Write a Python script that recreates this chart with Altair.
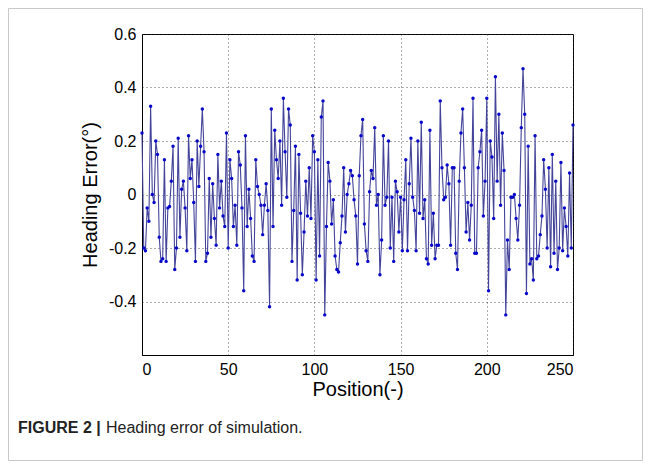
import altair as alt
import pandas as pd

heading_error = [
    0.23, -0.2, -0.21, -0.05, -0.1, 0.33, 0.0, -0.03, 0.2, 0.15, -0.16, -0.25, -0.24, 0.13, -0.25, -0.05, -0.045, 0.05, 0.18, -0.28, -0.2, 0.21,
    -0.16, 0.02, 0.05, -0.05, -0.21, 0.22, 0.06, 0.13, -0.03, -0.25, 0.2, 0.03, 0.18, 0.32, 0.16, -0.25, -0.22, 0.06, -0.16, 0.04, -0.09, -0.19, 0.15,
    -0.05, 0.05, -0.08, -0.12, 0.23, -0.2, 0.13, 0.06, -0.12, -0.04, -0.19, 0.16, 0.11, -0.05, -0.36, 0.22, -0.12, 0.02, -0.09, -0.23, -0.25, 0.13, 0.03, 0.0,
    -0.04, -0.15, -0.04, 0.04, -0.06, -0.42, 0.32, -0.12, 0.24, 0.13, 0.06, 0.2, -0.04, 0.36, 0.16, -0.01, 0.32, 0.26, -0.25, -0.06, 0.18, -0.32,
    0.15, -0.07, -0.3, -0.14, 0.05, -0.08, 0.1, -0.09, 0.22, 0.16, -0.32, 0.13, -0.23, 0.29, 0.35, -0.45, -0.12, 0.12, 0.05, -0.11, -0.02, -0.23, -0.28,
    -0.29, -0.18, -0.08, 0.1, -0.14, 0.0, 0.04, 0.09, 0.07, -0.02, -0.08, -0.26, 0.07, 0.22, 0.28, -0.11, -0.21, -0.25, 0.01, 0.09, 0.06, 0.25, -0.04,
    0.0, -0.3, -0.17, 0.22, -0.04, -0.01, 0.2, -0.2, -0.01, -0.25, 0.05, 0.01, -0.14, -0.01, -0.21, -0.02, 0.13, -0.21, 0.04, 0.21, -0.01,
    -0.06, -0.21, 0.2, -0.07, 0.27, -0.09, -0.02, -0.24, -0.26, 0.24, -0.19, -0.07, -0.24, -0.19, -0.19, 0.35, 0.1, -0.02, -0.01, 0.11, 0.04, -0.19, 0.1,
    0.1, -0.22, -0.28, 0.05, 0.23, 0.32, 0.1, -0.14, -0.03, -0.17, -0.04, 0.36, -0.22, -0.22, 0.1, 0.16, 0.24, -0.08, 0.05, 0.36, -0.36, 0.2, 0.14,
    -0.09, 0.44, 0.05, 0.3, -0.04, 0.23, 0.09, -0.45, -0.17, -0.28, -0.01, -0.01, 0.0, -0.09, -0.17, -0.04, 0.25, 0.47, 0.3, -0.37, 0.18, -0.26, -0.24, -0.32, 0.22, -0.24, -0.23, -0.15, -0.08, 0.13,
    0.02, -0.2, 0.1, -0.27, 0.15, -0.22, 0.05, -0.28, -0.2, 0.12, -0.21, -0.05, -0.12, -0.23, 0.08, -0.2, 0.26,
]
position = list(range(len(heading_error)))

x_ticks = [0, 50, 100, 150, 200, 250]
y_ticks = [-0.4, -0.2, 0, 0.2, 0.4, 0.6]

caption_bold = ["FIGURE 2 |"]
caption_text = ["Heading error of simulation."]

df = pd.DataFrame({"pos": position, "err": heading_error})

FONT = "Liberation Sans"

x_enc = alt.X("pos:Q", scale=alt.Scale(domain=[0, 250], nice=False),
              axis=alt.Axis(values=x_ticks, title="Position(-)", format="d"))
y_enc = alt.Y("err:Q", scale=alt.Scale(domain=[-0.6, 0.6], nice=False),
              axis=alt.Axis(values=y_ticks, title="Heading Error(°)",
                            labelExpr="'' + datum.value"))

line = alt.Chart(df).mark_line(color="#44449a", strokeWidth=1.1).encode(x=x_enc, y=y_enc)
pts = alt.Chart(df).mark_point(filled=True, color="#0808cc", size=12, opacity=1).encode(x="pos:Q", y="err:Q")

frame = alt.Chart(pd.DataFrame({"k": [0]})).mark_rect(
    fill=None, stroke="#c8c8c8", strokeWidth=1
).encode(x=alt.value(-133.5), x2=alt.value(500.5), y=alt.value(-25.5), y2=alt.value(426.5))

cap1 = alt.Chart(pd.DataFrame({"t": caption_bold})).mark_text(
    align="left", baseline="middle", font=FONT, fontSize=16, fontWeight="bold", color="#222222"
).encode(text="t:N", x=alt.value(-124), y=alt.value(394))
cap2 = alt.Chart(pd.DataFrame({"t": caption_text})).mark_text(
    align="left", baseline="middle", font=FONT, fontSize=16, color="#222222"
).encode(text="t:N", x=alt.value(-36), y=alt.value(394))

chart = alt.layer(frame, line, pts, cap1, cap2).properties(
    width=431, height=321,
    autosize=alt.AutoSizeParams(type="none"),
    padding={"left": 134, "top": 26, "right": 70, "bottom": 106},
).configure_view(stroke="black", strokeWidth=1).configure_axis(
    labelFont=FONT, titleFont=FONT, labelFontSize=16, titleFontSize=20,
    titleFontWeight="normal", labelColor="black", titleColor="black",
    domainColor="black", ticks=False,
    grid=True, gridColor="#333333", gridDash=[1, 3], gridOpacity=0.8,
).configure_axisX(titlePadding=2, labelPadding=6).configure_axisY(titlePadding=8, labelPadding=6)

chart.save("out.html", embed_options={"renderer": "svg", "actions": False})
